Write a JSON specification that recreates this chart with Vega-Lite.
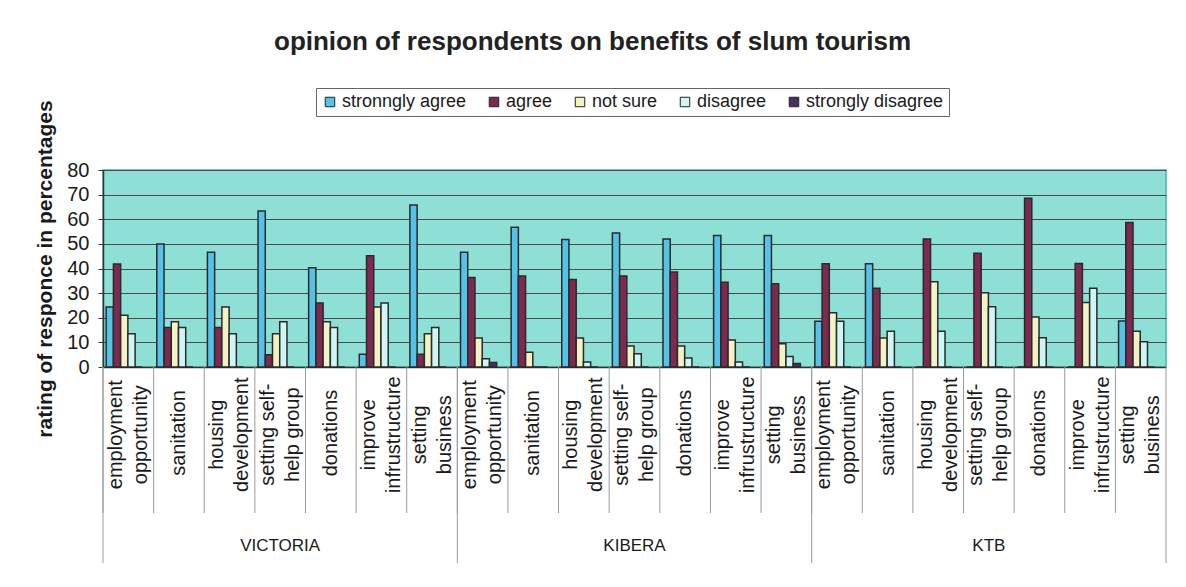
{
  "$schema": "https://vega.github.io/schema/vega-lite/v6.json",
  "width": 1063,
  "height": 197,
  "autosize": {"type": "none"},
  "padding": {"left": 103, "top": 170, "right": 20, "bottom": 220},
  "background": "white",
  "title": {
    "text": "opinion of respondents on benefits of slum tourism",
    "fontSize": 26,
    "font": "Liberation Sans",
    "fontWeight": "bold",
    "color": "#222",
    "anchor": "middle",
    "baseline": "middle",
    "frame": "group",
    "offset": 20,
    "dx": -42
  },
  "data": {
    "values": [
      {"region": "VICTORIA", "item": "employment\nopportunity", "series": "stronngly agree", "value": 24.4},
      {"region": "VICTORIA", "item": "employment\nopportunity", "series": "agree", "value": 41.8},
      {"region": "VICTORIA", "item": "employment\nopportunity", "series": "not sure", "value": 21},
      {"region": "VICTORIA", "item": "employment\nopportunity", "series": "disagree", "value": 13.5},
      {"region": "VICTORIA", "item": "employment\nopportunity", "series": "strongly disagree", "value": 0},
      {"region": "VICTORIA", "item": "sanitation", "series": "stronngly agree", "value": 50},
      {"region": "VICTORIA", "item": "sanitation", "series": "agree", "value": 16},
      {"region": "VICTORIA", "item": "sanitation", "series": "not sure", "value": 18.4},
      {"region": "VICTORIA", "item": "sanitation", "series": "disagree", "value": 16},
      {"region": "VICTORIA", "item": "sanitation", "series": "strongly disagree", "value": 0},
      {"region": "VICTORIA", "item": "housing\ndevelopment", "series": "stronngly agree", "value": 46.6},
      {"region": "VICTORIA", "item": "housing\ndevelopment", "series": "agree", "value": 16},
      {"region": "VICTORIA", "item": "housing\ndevelopment", "series": "not sure", "value": 24.4},
      {"region": "VICTORIA", "item": "housing\ndevelopment", "series": "disagree", "value": 13.5},
      {"region": "VICTORIA", "item": "housing\ndevelopment", "series": "strongly disagree", "value": 0},
      {"region": "VICTORIA", "item": "setting self-\nhelp group", "series": "stronngly agree", "value": 63.3},
      {"region": "VICTORIA", "item": "setting self-\nhelp group", "series": "agree", "value": 5},
      {"region": "VICTORIA", "item": "setting self-\nhelp group", "series": "not sure", "value": 13.5},
      {"region": "VICTORIA", "item": "setting self-\nhelp group", "series": "disagree", "value": 18.4},
      {"region": "VICTORIA", "item": "setting self-\nhelp group", "series": "strongly disagree", "value": 0},
      {"region": "VICTORIA", "item": "donations", "series": "stronngly agree", "value": 40.3},
      {"region": "VICTORIA", "item": "donations", "series": "agree", "value": 26},
      {"region": "VICTORIA", "item": "donations", "series": "not sure", "value": 18.4},
      {"region": "VICTORIA", "item": "donations", "series": "disagree", "value": 16},
      {"region": "VICTORIA", "item": "donations", "series": "strongly disagree", "value": 0},
      {"region": "VICTORIA", "item": "improve\ninfrustructure", "series": "stronngly agree", "value": 5.2},
      {"region": "VICTORIA", "item": "improve\ninfrustructure", "series": "agree", "value": 45.2},
      {"region": "VICTORIA", "item": "improve\ninfrustructure", "series": "not sure", "value": 24.4},
      {"region": "VICTORIA", "item": "improve\ninfrustructure", "series": "disagree", "value": 26},
      {"region": "VICTORIA", "item": "improve\ninfrustructure", "series": "strongly disagree", "value": 0},
      {"region": "VICTORIA", "item": "setting\nbusiness", "series": "stronngly agree", "value": 65.8},
      {"region": "VICTORIA", "item": "setting\nbusiness", "series": "agree", "value": 5.2},
      {"region": "VICTORIA", "item": "setting\nbusiness", "series": "not sure", "value": 13.5},
      {"region": "VICTORIA", "item": "setting\nbusiness", "series": "disagree", "value": 16},
      {"region": "VICTORIA", "item": "setting\nbusiness", "series": "strongly disagree", "value": 0},
      {"region": "KIBERA", "item": "employment\nopportunity", "series": "stronngly agree", "value": 46.6},
      {"region": "KIBERA", "item": "employment\nopportunity", "series": "agree", "value": 36.3},
      {"region": "KIBERA", "item": "employment\nopportunity", "series": "not sure", "value": 11.8},
      {"region": "KIBERA", "item": "employment\nopportunity", "series": "disagree", "value": 3.4},
      {"region": "KIBERA", "item": "employment\nopportunity", "series": "strongly disagree", "value": 1.8},
      {"region": "KIBERA", "item": "sanitation", "series": "stronngly agree", "value": 56.8},
      {"region": "KIBERA", "item": "sanitation", "series": "agree", "value": 37},
      {"region": "KIBERA", "item": "sanitation", "series": "not sure", "value": 6},
      {"region": "KIBERA", "item": "sanitation", "series": "disagree", "value": 0},
      {"region": "KIBERA", "item": "sanitation", "series": "strongly disagree", "value": 0},
      {"region": "KIBERA", "item": "housing\ndevelopment", "series": "stronngly agree", "value": 51.8},
      {"region": "KIBERA", "item": "housing\ndevelopment", "series": "agree", "value": 35.5},
      {"region": "KIBERA", "item": "housing\ndevelopment", "series": "not sure", "value": 11.8},
      {"region": "KIBERA", "item": "housing\ndevelopment", "series": "disagree", "value": 2},
      {"region": "KIBERA", "item": "housing\ndevelopment", "series": "strongly disagree", "value": 0},
      {"region": "KIBERA", "item": "setting self-\nhelp group", "series": "stronngly agree", "value": 54.4},
      {"region": "KIBERA", "item": "setting self-\nhelp group", "series": "agree", "value": 37},
      {"region": "KIBERA", "item": "setting self-\nhelp group", "series": "not sure", "value": 8.5},
      {"region": "KIBERA", "item": "setting self-\nhelp group", "series": "disagree", "value": 5.4},
      {"region": "KIBERA", "item": "setting self-\nhelp group", "series": "strongly disagree", "value": 0},
      {"region": "KIBERA", "item": "donations", "series": "stronngly agree", "value": 52},
      {"region": "KIBERA", "item": "donations", "series": "agree", "value": 38.6},
      {"region": "KIBERA", "item": "donations", "series": "not sure", "value": 8.5},
      {"region": "KIBERA", "item": "donations", "series": "disagree", "value": 3.7},
      {"region": "KIBERA", "item": "donations", "series": "strongly disagree", "value": 0},
      {"region": "KIBERA", "item": "improve\ninfrustructure", "series": "stronngly agree", "value": 53.4},
      {"region": "KIBERA", "item": "improve\ninfrustructure", "series": "agree", "value": 34.4},
      {"region": "KIBERA", "item": "improve\ninfrustructure", "series": "not sure", "value": 11},
      {"region": "KIBERA", "item": "improve\ninfrustructure", "series": "disagree", "value": 2},
      {"region": "KIBERA", "item": "improve\ninfrustructure", "series": "strongly disagree", "value": 0},
      {"region": "KIBERA", "item": "setting\nbusiness", "series": "stronngly agree", "value": 53.4},
      {"region": "KIBERA", "item": "setting\nbusiness", "series": "agree", "value": 33.8},
      {"region": "KIBERA", "item": "setting\nbusiness", "series": "not sure", "value": 9.4},
      {"region": "KIBERA", "item": "setting\nbusiness", "series": "disagree", "value": 4.3},
      {"region": "KIBERA", "item": "setting\nbusiness", "series": "strongly disagree", "value": 1.4},
      {"region": "KTB", "item": "employment\nopportunity", "series": "stronngly agree", "value": 18.6},
      {"region": "KTB", "item": "employment\nopportunity", "series": "agree", "value": 41.9},
      {"region": "KTB", "item": "employment\nopportunity", "series": "not sure", "value": 22},
      {"region": "KTB", "item": "employment\nopportunity", "series": "disagree", "value": 18.6},
      {"region": "KTB", "item": "employment\nopportunity", "series": "strongly disagree", "value": 0},
      {"region": "KTB", "item": "sanitation", "series": "stronngly agree", "value": 41.9},
      {"region": "KTB", "item": "sanitation", "series": "agree", "value": 32},
      {"region": "KTB", "item": "sanitation", "series": "not sure", "value": 11.8},
      {"region": "KTB", "item": "sanitation", "series": "disagree", "value": 14.5},
      {"region": "KTB", "item": "sanitation", "series": "strongly disagree", "value": 0},
      {"region": "KTB", "item": "housing\ndevelopment", "series": "stronngly agree", "value": 0},
      {"region": "KTB", "item": "housing\ndevelopment", "series": "agree", "value": 52},
      {"region": "KTB", "item": "housing\ndevelopment", "series": "not sure", "value": 34.6},
      {"region": "KTB", "item": "housing\ndevelopment", "series": "disagree", "value": 14.5},
      {"region": "KTB", "item": "housing\ndevelopment", "series": "strongly disagree", "value": 0},
      {"region": "KTB", "item": "setting self-\nhelp group", "series": "stronngly agree", "value": 0},
      {"region": "KTB", "item": "setting self-\nhelp group", "series": "agree", "value": 46.2},
      {"region": "KTB", "item": "setting self-\nhelp group", "series": "not sure", "value": 30.2},
      {"region": "KTB", "item": "setting self-\nhelp group", "series": "disagree", "value": 24.5},
      {"region": "KTB", "item": "setting self-\nhelp group", "series": "strongly disagree", "value": 0},
      {"region": "KTB", "item": "donations", "series": "stronngly agree", "value": 0},
      {"region": "KTB", "item": "donations", "series": "agree", "value": 68.5},
      {"region": "KTB", "item": "donations", "series": "not sure", "value": 20.3},
      {"region": "KTB", "item": "donations", "series": "disagree", "value": 11.9},
      {"region": "KTB", "item": "donations", "series": "strongly disagree", "value": 0},
      {"region": "KTB", "item": "improve\ninfrustructure", "series": "stronngly agree", "value": 0},
      {"region": "KTB", "item": "improve\ninfrustructure", "series": "agree", "value": 42},
      {"region": "KTB", "item": "improve\ninfrustructure", "series": "not sure", "value": 26.2},
      {"region": "KTB", "item": "improve\ninfrustructure", "series": "disagree", "value": 32},
      {"region": "KTB", "item": "improve\ninfrustructure", "series": "strongly disagree", "value": 0},
      {"region": "KTB", "item": "setting\nbusiness", "series": "stronngly agree", "value": 18.7},
      {"region": "KTB", "item": "setting\nbusiness", "series": "agree", "value": 58.7},
      {"region": "KTB", "item": "setting\nbusiness", "series": "not sure", "value": 14.5},
      {"region": "KTB", "item": "setting\nbusiness", "series": "disagree", "value": 10.3},
      {"region": "KTB", "item": "setting\nbusiness", "series": "strongly disagree", "value": 0}
    ]
  },
  "transform": [
    {"calculate": "datum.region + '|' + datum.item", "as": "key"}
  ],
  "encoding": {
    "x": {
      "field": "key",
      "type": "nominal",
      "sort": null,
      "scale": {"paddingInner": 0, "paddingOuter": 0},
      "axis": {
        "orient": "bottom",
        "title": null,
        "domain": true,
        "domainColor": "#333",
        "domainWidth": 1.5,
        "ticks": false,
        "labels": false
      }
    }
  },
  "layer": [
    {
      "mark": {"type": "bar", "stroke": "#2a2a2a", "strokeWidth": 1.5},
      "encoding": {
        "xOffset": {
          "field": "series",
          "type": "nominal",
          "sort": ["stronngly agree", "agree", "not sure", "disagree", "strongly disagree"],
          "scale": {"paddingInner": 0, "paddingOuter": 1.06, "align": 0.22}
        },
        "y": {
          "field": "value",
          "type": "quantitative",
          "scale": {"domain": [0, 80], "nice": false, "zero": false},
          "axis": {
            "title": "rating of responce in percentages",
            "titleFont": "Liberation Sans",
            "titleFontSize": 21,
            "titleFontWeight": "bold",
            "titleColor": "#1a1a1a",
            "titlePadding": 11,
            "values": [0, 10, 20, 30, 40, 50, 60, 70, 80],
            "labelOverlap": false,
            "labelFont": "Liberation Sans",
            "labelFontSize": 20,
            "labelColor": "#1a1a1a",
            "labelPadding": 9,
            "domainColor": "#333",
            "domainWidth": 1.5,
            "tickColor": "#333",
            "tickSize": 5,
            "grid": true,
            "gridColor": "#4a4a4a",
            "gridWidth": 1
          }
        },
        "color": {
          "field": "series",
          "type": "nominal",
          "sort": ["stronngly agree", "agree", "not sure", "disagree", "strongly disagree"],
          "scale": {
            "domain": ["stronngly agree", "agree", "not sure", "disagree", "strongly disagree"],
            "range": ["#55c3e8", "#7c2a50", "#f2f2c4", "#cff5f5", "#4c2f5e"]
          },
          "legend": {
            "title": null,
            "orient": "none",
            "direction": "horizontal",
            "legendX": 213,
            "legendY": -82,
            "columns": 5,
            "symbolType": "square",
            "symbolSize": 90,
            "symbolStrokeColor": "#222",
            "symbolStrokeWidth": 1,
            "labelFont": "Liberation Sans",
            "labelFontSize": 18,
            "labelColor": "#1a1a1a",
            "columnPadding": 18,
            "labelOffset": 3,
            "padding": 5,
            "strokeColor": "#666",
            "fillColor": "white"
          }
        }
      }
    },
    {
      "transform": [{"filter": "datum.series == 'agree'"}],
      "mark": {"type": "rule", "color": "#9a9a9a", "strokeWidth": 1, "clip": false},
      "encoding": {
        "x": {"field": "key", "type": "nominal", "sort": null, "bandPosition": 0},
        "y": {"datum": 0, "type": "quantitative", "axis": null},
        "y2": {"datum": -59.3}
      }
    },
    {
      "transform": [{"filter": "datum.series == 'agree' && indexof(datum.item, 'employment') == 0"}],
      "mark": {"type": "rule", "color": "#9a9a9a", "strokeWidth": 1, "clip": false},
      "encoding": {
        "x": {"field": "key", "type": "nominal", "sort": null, "bandPosition": 0},
        "y": {"datum": 0, "type": "quantitative", "axis": null},
        "y2": {"datum": -79.6}
      }
    },
    {
      "transform": [{"filter": "datum.series == 'agree' && datum.item == 'setting\\nbusiness' && datum.region == 'KTB'"}],
      "mark": {"type": "rule", "color": "#9a9a9a", "strokeWidth": 1, "clip": false},
      "encoding": {
        "x": {"field": "key", "type": "nominal", "sort": null, "bandPosition": 1},
        "y": {"datum": 0, "type": "quantitative", "axis": null},
        "y2": {"datum": -79.6}
      }
    },
    {
      "transform": [{"filter": "datum.series == 'agree' && indexof(datum.item, '\\n') >= 0"}],
      "mark": {"type": "text", "font": "Liberation Sans", "fontSize": 20, "lineHeight": 25, "lineBreak": "\n", "color": "#1a1a1a", "angle": 270, "align": "center", "baseline": "middle", "dy": -12.5},
      "encoding": {
        "x": {"field": "key", "type": "nominal", "sort": null, "bandPosition": 0.5},
        "y": {"datum": -27.5, "type": "quantitative", "axis": null},
        "text": {"field": "item"}
      }
    },
    {
      "transform": [{"filter": "datum.series == 'agree' && indexof(datum.item, '\\n') < 0"}],
      "mark": {"type": "text", "font": "Liberation Sans", "fontSize": 20, "color": "#1a1a1a", "angle": 270, "align": "center", "baseline": "middle"},
      "encoding": {
        "x": {"field": "key", "type": "nominal", "sort": null, "bandPosition": 0.5},
        "y": {"datum": -26.8, "type": "quantitative", "axis": null},
        "text": {"field": "item"}
      }
    },
    {
      "transform": [{"filter": "datum.series == 'agree' && indexof(datum.item, 'self-') >= 0"}],
      "mark": {"type": "text", "font": "Liberation Sans", "fontSize": 17, "color": "#1a1a1a", "baseline": "middle", "align": "center"},
      "encoding": {
        "x": {"field": "key", "type": "nominal", "sort": null, "bandPosition": 0.5},
        "y": {"datum": -72.5, "type": "quantitative", "axis": null},
        "text": {"field": "region"}
      }
    }
  ],
  "resolve": {"axis": {"y": "independent"}},
  "config": {
    "view": {"fill": "#8ee0d6", "stroke": "#3fb8ae", "strokeWidth": 1.5}
  }
}
